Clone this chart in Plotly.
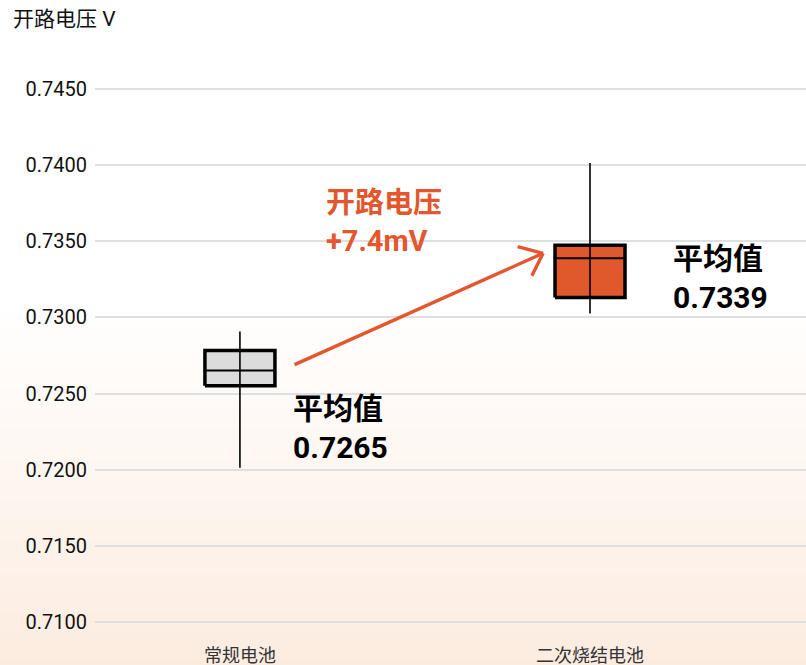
import plotly.graph_objects as go

# ---- data ----
categories = ["常规电池", "二次烧结电池"]
lower = [0.72013, 0.73026]
q1 = [0.72552, 0.73131]
median = [0.72651, 0.73388]
q3 = [0.72782, 0.73474]
upper = [0.72907, 0.74013]
means = [0.7265, 0.7339]
delta_label = "+7.4mV"
tick_vals = [0.7100, 0.7150, 0.7200, 0.7250, 0.7300, 0.7350, 0.7400, 0.7450]
fills = ["#dcdcdc", "#e0592c"]

ORANGE = "#e4572e"
FONT = "Roboto, Noto Sans CJK SC"
half = 0.1

fig = go.Figure()

# gradient background strips (style only)
n = 60
y_start = 0.58
top_c = (255, 255, 255)
bot_c = (252, 234, 221)
for i in range(n):
    f0 = i / n
    f1 = (i + 1) / n
    t = 1 - (f0 + f1) / 2
    c = tuple(int(round(top_c[k] + (bot_c[k] - top_c[k]) * t)) for k in range(3))
    fig.add_shape(type="rect", xref="paper", yref="paper",
                  x0=-0.2, x1=1.05,
                  y0=-0.1 + (y_start + 0.1) * f0, y1=-0.1 + (y_start + 0.1) * f1 + 0.002,
                  fillcolor="rgb(%d,%d,%d)" % c, line_width=0, layer="below")

for i, cat in enumerate(categories):
    fig.add_trace(go.Scatter(
        x=[i - half, i + half, i + half, i - half, i - half],
        y=[q1[i], q1[i], q3[i], q3[i], q1[i]],
        mode="lines", fill="toself", fillcolor=fills[i],
        line=dict(color="black", width=3.5), hoverinfo="skip", showlegend=False))
    fig.add_trace(go.Scatter(
        x=[i, i], y=[lower[i], upper[i]], mode="lines",
        line=dict(color="black", width=1.6), hoverinfo="skip", showlegend=False))
    fig.add_trace(go.Scatter(
        x=[i - half, i + half], y=[median[i], median[i]], mode="lines",
        line=dict(color="black", width=2), hoverinfo="skip", showlegend=False))

# mean annotations
fig.add_annotation(x=0.147, y=means[0] - 0.00373, xref="x", yref="y",
                   text="<b>平均值<br>%.4f</b>" % means[0],
                   showarrow=False, xanchor="left", yanchor="middle", align="left",
                   font=dict(family=FONT, size=30, color="black"))
fig.add_annotation(x=1.23, y=means[1] - 0.0013, xref="x", yref="y",
                   text="<b>平均值<br>%.4f</b>" % means[1],
                   showarrow=False, xanchor="left", yanchor="middle", align="left",
                   font=dict(family=FONT, size=30, color="black"))

# delta label
fig.add_annotation(x=0.241, y=0.73625, xref="x", yref="y",
                   text="<b>开路电压<br>%s</b>" % delta_label,
                   showarrow=False, xanchor="left", yanchor="middle", align="left",
                   font=dict(family=FONT, size=29, color=ORANGE))

# arrow (line + open chevron head)
tip_x, tip_y = 0.866, means[1] + 0.00031
for ax, ay in [(-250, 112), (-27, -7), (-12, 24)]:
    fig.add_annotation(x=tip_x, y=tip_y, xref="x", yref="y", text="",
                       showarrow=True, arrowhead=0, arrowwidth=3.4, arrowcolor=ORANGE,
                       ax=ax, ay=ay, standoff=0, startstandoff=0)

fig.update_layout(
    width=806, height=665,
    margin=dict(l=95, r=0, t=60, b=25),
    paper_bgcolor="white", plot_bgcolor="rgba(0,0,0,0)",
    showlegend=False,
    font=dict(family=FONT, color="#222222"),
    xaxis=dict(range=[-0.414, 1.617], tickvals=[0, 1], ticktext=categories,
               showgrid=False, zeroline=False, showline=False,
               tickfont=dict(size=18, color="#333333"), ticks="",
               ticklabelstandoff=3),
    yaxis=dict(range=[0.70882, 0.74690], tickvals=tick_vals,
               tickformat=".4f", showgrid=True, gridcolor="#dde0e0", gridwidth=1.5,
               zeroline=False, showline=False, ticks="",
               ticklabelstandoff=7,
               tickfont=dict(size=20, color="#111111")),
)
fig.add_annotation(x=0, y=1, xref="paper", yref="paper", text="开路电压 V",
                   xshift=-84, yshift=27, showarrow=False, xanchor="left", yanchor="bottom",
                   font=dict(family=FONT, size=21, color="#111111"))

fig.write_html("out.html")
